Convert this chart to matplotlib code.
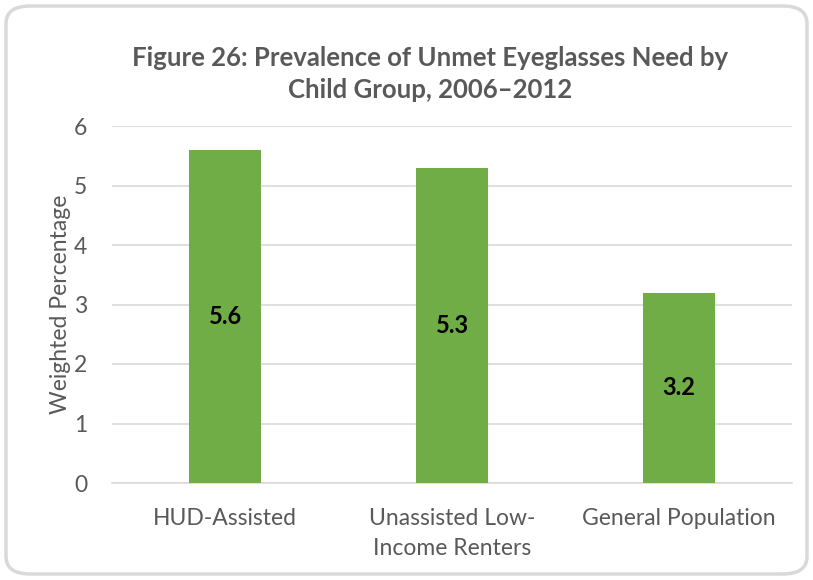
import matplotlib
matplotlib.use("Agg")
import matplotlib.pyplot as plt
from matplotlib.patches import FancyBboxPatch

categories = ["HUD-Assisted", "Unassisted Low-\nIncome Renters", "General Population"]
values = [5.6, 5.3, 3.2]
yticks = [0, 1, 2, 3, 4, 5, 6]
title = "Figure 26: Prevalence of Unmet Eyeglasses Need by\nChild Group, 2006\u20132012"
ylabel = "Weighted Percentage"

plt.rcParams['font.family'] = ['Lato', 'DejaVu Sans']
W, H = 813, 580
fig = plt.figure(figsize=(W/100, H/100), dpi=100)
fig.patch.set_facecolor("white")

border = FancyBboxPatch((6/W, 6/H), 1 - 12/W, 1 - 12/H,
                        boxstyle="round,pad=0,rounding_size=0.03",
                        transform=fig.transFigure, facecolor="none",
                        edgecolor="#d9d9d9", linewidth=2.5, zorder=-1)
fig.patches.append(border)

ax = fig.add_axes([112/W, (H-483)/H, 680/W, (483-126)/H])
ax.set_facecolor("none")
x = list(range(len(categories)))
bars = ax.bar(x, values, width=0.317, color="#70ad47", zorder=3)
for xi, v in zip(x, values):
    ax.text(xi, v/2, f"{v:.1f}", ha="center", va="center",
            fontsize=17, fontweight="bold", color="black", zorder=4)

ax.set_xlim(-0.5, 2.5)
ax.set_ylim(0, 6)
ax.set_yticks(yticks)
ax.set_yticklabels([str(t) for t in yticks])
ax.set_xticks(x)
ax.set_xticklabels(categories)
ax.grid(axis="y", color="#d9d9d9", linewidth=1.2, zorder=0)
ax.set_axisbelow(True)
for s in ["top", "right", "left"]:
    ax.spines[s].set_visible(False)
ax.spines["bottom"].set_color("#d9d9d9")
ax.spines["bottom"].set_linewidth(1.2)
ax.tick_params(axis="both", length=0, labelsize=16.5, colors="#595959")
ax.tick_params(axis="y", pad=18)
ax.tick_params(axis="x", pad=18)
for lab in ax.get_xticklabels():
    lab.set_linespacing(1.55)
ax.set_ylabel(ylabel, fontsize=16.5, color="#595959", labelpad=2)

fig.text(430/W, (H-74)/H, title, ha="center", va="center", fontsize=18.5,
         fontweight="bold", color="#595959", linespacing=1.4)

fig.savefig("out.png", dpi=100)
